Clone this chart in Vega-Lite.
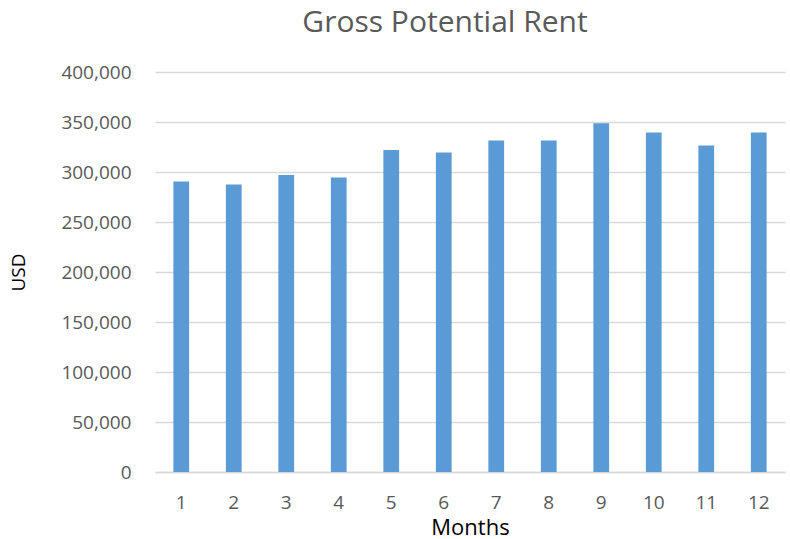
{
  "$schema": "https://vega.github.io/schema/vega-lite/v6.json",
  "width": 630,
  "height": 400,
  "autosize": {"type": "none"},
  "padding": {"left": 155, "top": 72, "right": 5, "bottom": 67},
  "background": "white",
  "title": {
    "text": "Gross Potential Rent",
    "font": "Open Sans",
    "fontSize": 30,
    "fontWeight": "normal",
    "color": "#595959",
    "anchor": "middle",
    "frame": "group",
    "dx": -25,
    "offset": 25
  },
  "data": {
    "values": [
      {"month": 1, "rent": 290500},
      {"month": 2, "rent": 287500},
      {"month": 3, "rent": 297000},
      {"month": 4, "rent": 294500},
      {"month": 5, "rent": 322000},
      {"month": 6, "rent": 319500},
      {"month": 7, "rent": 331500},
      {"month": 8, "rent": 331500},
      {"month": 9, "rent": 348800},
      {"month": 10, "rent": 339500},
      {"month": 11, "rent": 326500},
      {"month": 12, "rent": 339500}
    ]
  },
  "mark": {"type": "bar", "color": "#5b9bd5"},
  "encoding": {
    "x": {
      "field": "month",
      "type": "ordinal",
      "scale": {"paddingInner": 0.7, "paddingOuter": 0.35},
      "axis": {
        "title": "Months",
        "titleFont": "Open Sans",
        "titleFontSize": 22,
        "titleFontWeight": "normal",
        "titleColor": "#000000",
        "titlePadding": 5,
        "labelAngle": 0,
        "labelFont": "Open Sans",
        "labelFontSize": 19,
        "labelColor": "#595959",
        "labelPadding": 21,
        "ticks": false,
        "domainColor": "#d9d9d9",
        "domainWidth": 1.5
      }
    },
    "y": {
      "field": "rent",
      "type": "quantitative",
      "scale": {"domain": [0, 400000]},
      "axis": {
        "title": "USD",
        "titleFont": "Open Sans",
        "titleFontSize": 19,
        "titleFontWeight": "normal",
        "titleColor": "#000000",
        "titlePadding": 32,
        "values": [0, 50000, 100000, 150000, 200000, 250000, 300000, 350000, 400000],
        "format": ",.0f",
        "labelFont": "Open Sans",
        "labelFontSize": 19,
        "labelColor": "#595959",
        "labelPadding": 24,
        "ticks": false,
        "domain": false,
        "gridColor": "#d9d9d9",
        "gridWidth": 1.5
      }
    }
  },
  "config": {"view": {"stroke": null}}
}
